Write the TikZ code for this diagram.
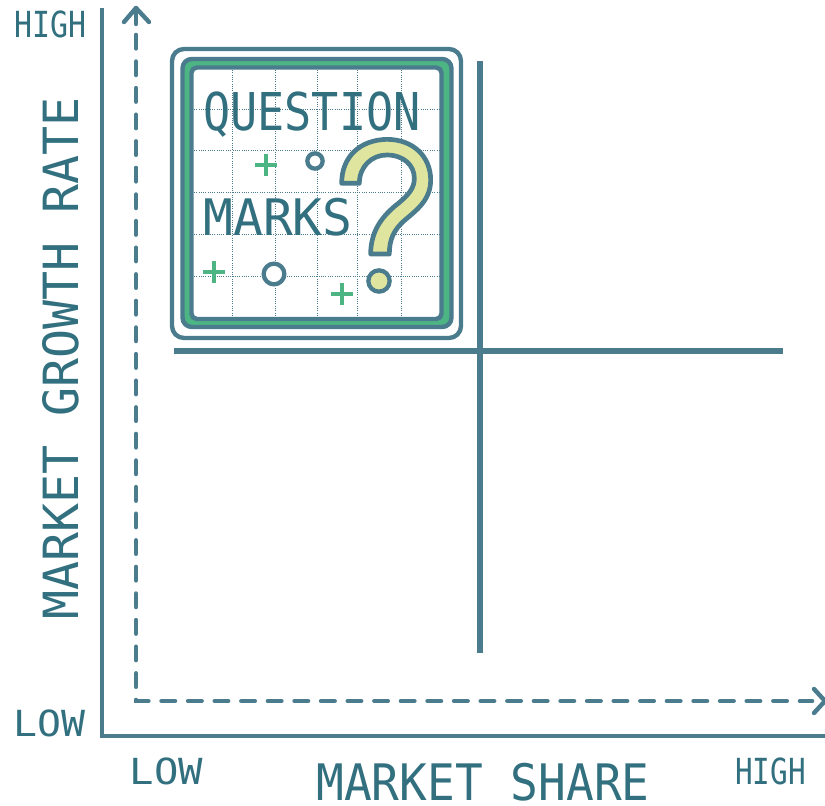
\documentclass[tikz,border=0pt]{standalone}
\usepackage{fontspec}
\usepackage{graphicx}
\setmainfont{DejaVu Sans Mono}
\definecolor{lineblue}{HTML}{4A7C8E}
\definecolor{textblue}{HTML}{32707F}
\definecolor{bandgreen}{HTML}{4DB584}
\definecolor{qyellow}{HTML}{DFE59E}
\newcommand{\fittext}[3]{\resizebox{#1}{#2}{\raisebox{0pt}[\height][0pt]{#3}}}
\tikzset{
  x=0.75pt,y=-0.75pt,
  axisline/.style={draw=lineblue,line width=3.3pt},
  dashline/.style={draw=lineblue,line width=3.5pt,line cap=round,dash pattern=on 10pt off 9.95pt},
  arrowline/.style={draw=lineblue,line width=3.3pt,line cap=round,line join=round},
  gridline/.style={draw=lineblue,line width=0.7pt,densely dotted},
  plusmark/.style={draw=bandgreen,line width=2.5pt},
  ringmark/.style={draw=lineblue,line width=3.2pt,fill=white,circle,minimum size=#1,inner sep=0pt},
  label/.style={text=textblue,inner sep=0pt,anchor=center},
}
\begin{document}
\begin{tikzpicture}
\useasboundingbox (0,0) rectangle (825,806);
% axes
\coordinate (axtop) at (102,8);
\coordinate (axorigin) at (102,736);
\coordinate (axright) at (825,736);
\draw[axisline] (axtop) -- (axorigin) -- (axright);
\coordinate (dtop) at (136,35);
\coordinate (dorigin) at (136,701);
\coordinate (dright) at (812,701);
\draw[dashline] (dtop) -- (dorigin) -- (dright);
\coordinate (atip) at (136,8);
\coordinate (rtip) at (825,701);
\draw[arrowline] (124,22) -- (atip) -- (149,22);
\draw[arrowline] (136,24) -- (atip);
\draw[arrowline] (814,689) -- (rtip) -- (814,713);
% quadrants
\coordinate (vt) at (480,61);
\coordinate (vb) at (480,653);
\coordinate (hl) at (174,351);
\coordinate (hr) at (783,351);
\draw[draw=lineblue,line width=4pt] (vt) -- (vb);
\draw[draw=lineblue,line width=4pt] (hl) -- (hr);
% card
\draw[draw=lineblue,line width=3.3pt,fill=white,rounded corners=9pt] (172,49) rectangle (461,338);
\draw[draw=lineblue,line width=3.3pt,fill=bandgreen,rounded corners=7pt] (182.5,59) rectangle (451.5,327);
\draw[draw=lineblue,line width=3.3pt,fill=white,rounded corners=4pt] (191.5,67.5) rectangle (441.5,319);
% grid
\foreach \gx in {232,275,317,357,401} \draw[gridline] (\gx,70) -- (\gx,316);
\foreach \gy in {109,150,192,234,276} \draw[gridline] (194,\gy) -- (439,\gy);
% question mark
\begin{scope}[shift={(160,40)},x=0.25pt,y=-0.25pt]
\draw[draw=lineblue,line width=3.5pt,fill=qyellow,line join=round]
  (545,430) .. controls (545,350) and (600,300) .. (680,298)
  .. controls (760,298) and (812,350) .. (812,420)
  .. controls (812,480) and (770,510) .. (735,540)
  .. controls (700,570) and (688,600) .. (688,642)
  -- (632,642)
  .. controls (632,570) and (670,525) .. (715,490)
  .. controls (745,465) and (763,445) .. (763,415)
  .. controls (763,375) and (730,345) .. (680,345)
  .. controls (635,345) and (598,380) .. (598,430) -- cycle;
\end{scope}
\node[ringmark=16pt,fill=qyellow] (qdot) at (379,281) {};
% marks
\node[ringmark=11.5pt] (ringa) at (315,161) {};
\node[ringmark=15.5pt] (ringb) at (274,274) {};
\foreach \px/\py in {266/165,214/272,342/294}
  \draw[plusmark] (\px-11,\py) -- (\px+11,\py) (\px,\py-11) -- (\px,\py+11);
% labels
\node[label] (qtext) at (312,111) {\fittext{163pt}{29pt}{QUESTION}};
\node[label] (mtext) at (278,216.5) {\fittext{112pt}{28pt}{MARKS}};
\node[label,rotate=90] (ytext) at (60,358.5) {\fittext{392pt}{27pt}{MARKET GROWTH RATE}};
\node[label] (xtext) at (483,781.5) {\fittext{250pt}{28pt}{MARKET SHARE}};
\node[label] (hightop) at (51,24) {\fittext{54pt}{20pt}{HIGH}};
\node[label] (lowleft) at (50,723.5) {\fittext{54pt}{20pt}{LOW}};
\node[label] (lowbot) at (166.5,771.5) {\fittext{55pt}{20pt}{LOW}};
\node[label] (highbot) at (770.5,771.5) {\fittext{53pt}{20pt}{HIGH}};
\end{tikzpicture}
\end{document}
